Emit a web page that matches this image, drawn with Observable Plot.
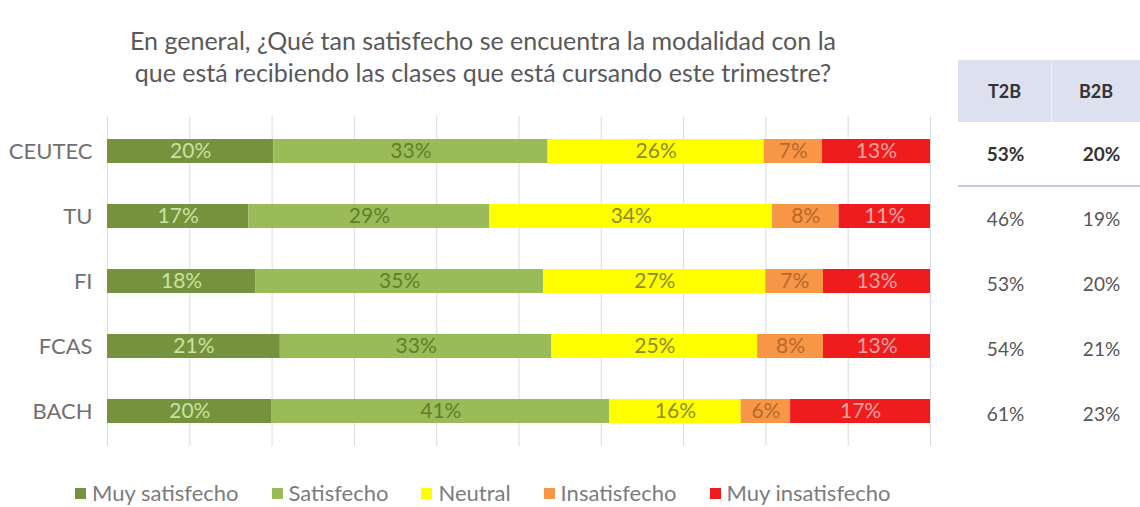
<!DOCTYPE html>
<html>
<head>
<meta charset="utf-8">
<script src="https://cdn.jsdelivr.net/npm/d3@7"></script>
<script src="https://cdn.jsdelivr.net/npm/@observablehq/plot@0.6"></script>
<style>
  html, body { margin: 0; padding: 0; background: #ffffff; }
  #wrap { position: relative; width: 1140px; height: 507px; overflow: hidden; font-family: Lato, "Open Sans", sans-serif; }
  #title { position: absolute; left: 33px; width: 900px; top: 24px; text-align: center; font-size: 25px; line-height: 32px; color: #595959; }
  #chart { position: absolute; left: 0; top: 100px; }
  #thead { position: absolute; left: 958px; top: 60px; width: 182px; height: 62px; background: #dde1ef; display: flex; }
  #thead div { display: flex; align-items: center; justify-content: center; font-weight: bold; font-size: 18px; color: #333; }
  #thead .c1 { width: 93px; border-right: 1px solid #eef0f8; }
  #thead .c2 { width: 88px; }
  #sep { position: absolute; left: 958px; top: 185px; width: 182px; height: 2px; background: #c9cdda; }
  #legend { position: absolute; left: 75px; top: 478px; height: 28px; display: flex; align-items: center; gap: 33px; font-size: 22px; color: #7c7c7c; }
  #legend .item { display: flex; align-items: center; }
  #legend .sw { width: 11px; height: 11px; margin-right: 6px; margin-top: 3px; }
</style>
</head>
<body>
<div id="wrap">
  <div id="title">En general, ¿Qué tan satisfecho se encuentra la modalidad con la<br>que está recibiendo las clases que está cursando este trimestre?</div>
  <div id="thead"></div>
  <div id="sep"></div>
  <div id="chart"></div>
  <div id="legend"></div>
</div>
<script>
const categories = ["CEUTEC", "TU", "FI", "FCAS", "BACH"];
const series = ["Muy satisfecho", "Satisfecho", "Neutral", "Insatisfecho", "Muy insatisfecho"];
const muySatisfecho   = [20, 17, 18, 21, 20];
const satisfecho      = [33, 29, 35, 33, 41];
const neutral         = [26, 34, 27, 25, 16];
const insatisfecho    = [7, 8, 7, 8, 6];
const muyInsatisfecho = [13, 11, 13, 13, 17];
const tableHeaders = ["T2B", "B2B"];
const t2b = [53, 46, 53, 54, 61];
const b2b = [20, 19, 20, 21, 23];

const seriesColors = ["#76923C", "#9BBB59", "#FFFF00", "#F79646", "#EE1C1C"];
const labelColors  = ["#C8E2A0", "#5F7F2A", "#8C8C22", "#B8682A", "#F8A3A3"];

const seriesValues = [muySatisfecho, satisfecho, neutral, insatisfecho, muyInsatisfecho];
const colorOf = Object.fromEntries(series.map((s, j) => [s, seriesColors[j]]));
const labelOf = Object.fromEntries(series.map((s, j) => [s, labelColors[j]]));

const data = [];
categories.forEach((c, i) => series.forEach((s, j) => data.push({categoria: c, serie: s, valor: seriesValues[j][i]})));
const tabla = categories.map((c, i) => ({categoria: c, t2b: t2b[i], b2b: b2b[i]}));

const stackOpts = {x: "valor", y: "categoria", z: "serie", offset: "normalize"};
const cellOpts = {y: "categoria", frameAnchor: "right", textAnchor: "middle", dy: 3, fontSize: 19};

const chart = Plot.plot({
  width: 1140,
  height: 360,
  marginLeft: 107,
  marginRight: 210,
  marginTop: 16,
  marginBottom: 14,
  style: {fontFamily: "Lato, 'Open Sans', sans-serif", fontSize: "22px", color: "#707070", background: "transparent"},
  x: {domain: [0, 1], axis: null},
  y: {domain: categories, paddingInner: 0.634, paddingOuter: 0.336, tickSize: 0, tickPadding: 15, label: null},
  color: {type: "identity"},
  marks: [
    Plot.ruleX(d3.ticks(0, 1, 10), {stroke: "#dcdcdc", strokeWidth: 1}),
    Plot.barX(data, Plot.stackX({...stackOpts, fill: d => colorOf[d.serie]})),
    Plot.text(data, Plot.stackX({...stackOpts, text: d => d.valor + "%", fill: d => labelOf[d.serie], fontSize: 21})),
    Plot.text(tabla, {...cellOpts, filter: d => d.categoria === categories[0], text: d => d.t2b + "%", dx: 75, fontWeight: "bold", fill: "#333"}),
    Plot.text(tabla, {...cellOpts, filter: d => d.categoria === categories[0], text: d => d.b2b + "%", dx: 171, fontWeight: "bold", fill: "#333"}),
    Plot.text(tabla, {...cellOpts, filter: d => d.categoria !== categories[0], text: d => d.t2b + "%", dx: 75, fill: "#555"}),
    Plot.text(tabla, {...cellOpts, filter: d => d.categoria !== categories[0], text: d => d.b2b + "%", dx: 171, fill: "#555"})
  ]
});
document.getElementById("chart").appendChild(chart);

const thead = document.getElementById("thead");
tableHeaders.forEach((h, k) => {
  const d = document.createElement("div");
  d.className = k === 0 ? "c1" : "c2";
  d.textContent = h;
  thead.appendChild(d);
});

const legend = document.getElementById("legend");
series.forEach((s, j) => {
  const item = document.createElement("div");
  item.className = "item";
  const sw = document.createElement("span");
  sw.className = "sw";
  sw.style.background = seriesColors[j];
  const t = document.createElement("span");
  t.textContent = s;
  item.appendChild(sw);
  item.appendChild(t);
  legend.appendChild(item);
});
</script>
</body>
</html>
